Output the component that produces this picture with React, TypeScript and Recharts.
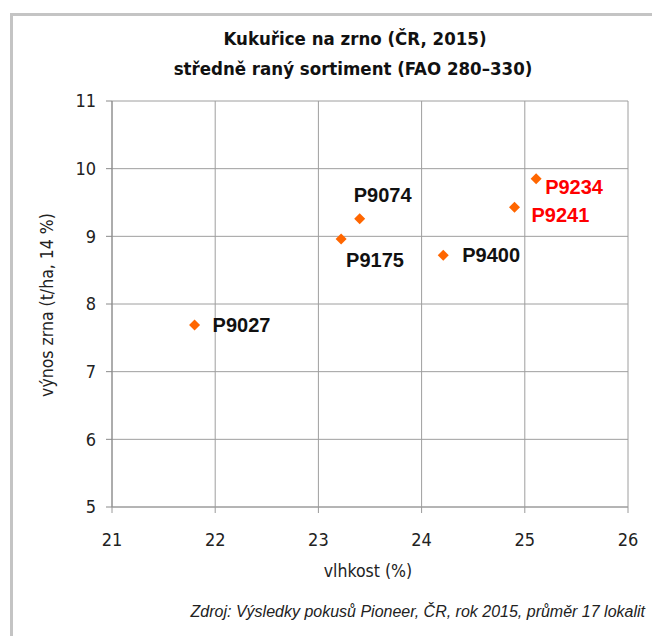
import React from "react";
import { ScatterChart, Scatter, XAxis, YAxis, CartesianGrid, Customized } from "recharts";

const hybrids = ["P9027", "P9175", "P9074", "P9400", "P9241", "P9234"];
const moisture = [21.8, 23.22, 23.4, 24.21, 24.9, 25.11];
const yieldT = [7.69, 8.96, 9.26, 8.72, 9.43, 9.85];
const highlighted = ["P9234", "P9241"];
const xTicks = [21, 22, 23, 24, 25, 26];
const yTicks = [5, 6, 7, 8, 9, 10, 11];

const titleLine1 = "Kukuřice na zrno (ČR, 2015)";
const titleLine2 = "středně raný sortiment (FAO 280–330)";
const xTitle = "vlhkost (%)";
const yTitle = "výnos zrna (t/ha, 14 %)";
const footer = "Zdroj: Výsledky pokusů Pioneer, ČR, rok 2015, průměr 17 lokalit";

// label placement relative to marker (dx, dy)
const labelPlacement: Record<string, [number, number]> = {
  P9027: [18, 0],
  P9175: [5, 21],
  P9074: [-6, -24],
  P9400: [19, 0],
  P9241: [17, 8],
  P9234: [9, 8],
};

const data = hybrids.map((name, i) => ({ name, x: moisture[i], y: yieldT[i] }));

const narrow = "'Liberation Sans Narrow', 'DejaVu Sans Condensed', 'Arial Narrow', sans-serif";

const Marker = (props: any) => {
  const { cx, cy, payload } = props;
  const r = 5.5;
  const [dx, dy] = labelPlacement[payload.name] || [10, 0];
  const red = highlighted.includes(payload.name);
  return (
    <g>
      <polygon
        points={`${cx},${cy - r} ${cx + r},${cy} ${cx},${cy + r} ${cx - r},${cy}`}
        fill="#ff6600"
      />
      <text
        x={cx + dx}
        y={cy + dy}
        dominantBaseline="central"
        fontFamily="'Liberation Sans', Arial, sans-serif"
        fontWeight="bold"
        fontSize={20}
        fill={red ? "#ff0000" : "#111111"}
      >
        {payload.name}
      </text>
    </g>
  );
};

const Texts = () => (
  <g>
    <text x={355} y={38} textAnchor="middle" dominantBaseline="central" fontFamily={narrow} fontWeight="bold" fontSize={18.5} fill="#111">
      {titleLine1}
    </text>
    <text x={353} y={68} textAnchor="middle" dominantBaseline="central" fontFamily={narrow} fontWeight="bold" fontSize={18.5} fill="#111">
      {titleLine2}
    </text>
    <text x={368} y={571} textAnchor="middle" dominantBaseline="central" fontFamily={narrow} fontSize={17.5} fill="#222">
      {xTitle}
    </text>
    <text
      x={47}
      y={305}
      textAnchor="middle"
      dominantBaseline="central"
      fontFamily={narrow}
      fontSize={17.5}
      fill="#222"
      transform="rotate(-90 47 305)"
    >
      {yTitle}
    </text>
    <text x={645} y={611} textAnchor="end" dominantBaseline="central" fontFamily="'Liberation Sans', Arial, sans-serif" fontStyle="italic" fontSize={16} fill="#222">
      {footer}
    </text>
  </g>
);

export default function App() {
  return (
    <div style={{ position: "absolute", left: 0, top: 0, width: 652, height: 636, background: "#fff", overflow: "hidden" }}>
      <div
        style={{
          position: "absolute",
          left: 10,
          top: 13,
          width: 700,
          height: 700,
          border: "3px solid #c4c4c4",
          boxSizing: "border-box",
        }}
      />
      <div style={{ position: "absolute", left: 0, top: 0 }}>
        <ScatterChart width={652} height={636} margin={{ top: 101, right: 24, bottom: 89, left: 52 }}>
          <CartesianGrid stroke="#9e9e9e" strokeWidth={1} />
          <XAxis
            type="number"
            dataKey="x"
            domain={[21, 26]}
            ticks={xTicks}
            allowDataOverflow
            height={40}
            tickSize={6}
            tickMargin={20}
            stroke="#9a9a9a"
            tick={{ fill: "#222", fontSize: 18, fontFamily: narrow }}
          />
          <YAxis
            type="number"
            dataKey="y"
            domain={[5, 11]}
            ticks={yTicks}
            allowDataOverflow
            width={60}
            tickSize={6}
            tickMargin={10}
            stroke="#8a8a8a"
            tick={{ fill: "#222", fontSize: 18, fontFamily: narrow }}
          />
          <Scatter data={data} shape={<Marker />} isAnimationActive={false} />
          <Customized component={Texts} />
        </ScatterChart>
      </div>
    </div>
  );
}
